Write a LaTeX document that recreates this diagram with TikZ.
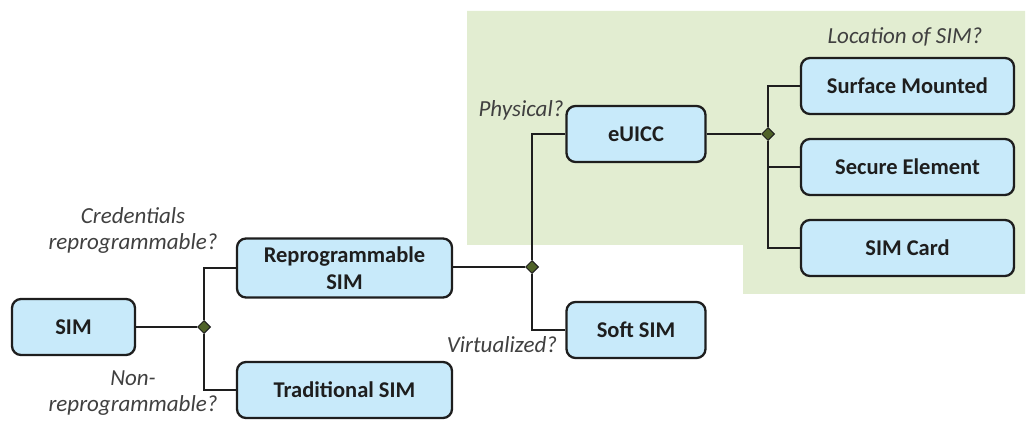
\documentclass[tikz,border=0pt]{standalone}
\usepackage{fontspec}
\setmainfont{Carlito}
\usetikzlibrary{shapes.geometric}
\definecolor{boxblue}{RGB}{200,234,250}
\definecolor{bggreen}{RGB}{226,237,209}
\definecolor{knot}{RGB}{79,98,40}
\definecolor{ink}{RGB}{30,30,30}
\definecolor{ask}{RGB}{64,64,64}
\tikzset{
  simbox/.style={draw=ink, line width=2.3pt, fill=boxblue, rounded corners=9pt, minimum height=56pt, inner sep=0pt, align=center, text=ink, font=\fontsize{22.5}{26.5}\selectfont\bfseries},
  knotpt/.style={diamond, draw=ink, fill=knot, line width=1pt, minimum size=13pt, inner sep=0pt},
  question/.style={align=center, text=ask, font=\fontsize{23}{26}\selectfont\itshape},
  wire/.style={draw=ink, line width=2pt}
}
\begin{document}
\begin{tikzpicture}[x=1pt, y=-1pt]
    \useasboundingbox (0,0) rectangle (1029,430);
    \fill[bggreen] (467,11) -- (1025,11) -- (1025,294) -- (743,294) -- (743,245) -- (467,245) -- cycle;
    \node[simbox, minimum width=123pt] (sim) at (73.5,327) {SIM};
    \node[simbox, minimum width=215pt, minimum height=59pt] (repro) at (344.5,268) {Reprogrammable\\SIM};
    \node[simbox, minimum width=215pt] (trad) at (344.5,390) {Traditional SIM};
    \node[simbox, minimum width=139pt] (soft) at (636,330) {Soft SIM};
    \node[simbox, minimum width=139pt] (euicc) at (636,134) {eUICC};
    \node[simbox, minimum width=213pt] (surf) at (907.5,86) {Surface Mounted};
    \node[simbox, minimum width=213pt] (secure) at (907.5,167) {Secure Element};
    \node[simbox, minimum width=213pt] (simcard) at (907.5,248) {SIM Card};
    \node[knotpt] (d1) at (204,327) {};
    \node[knotpt] (d2) at (532,267) {};
    \node[knotpt] (d3) at (768,134) {};
    \draw[wire] (sim) -- (d1);
    \draw[wire] (repro.west) -| (d1);
    \draw[wire] (d1) |- (trad.west);
    \draw[wire] (repro.east |- d2) -- (d2);
    \draw[wire] (euicc.west) -| (d2);
    \draw[wire] (d2) |- (soft.west);
    \draw[wire] (euicc) -- (d3);
    \draw[wire] (surf.west) -| (d3);
    \draw[wire] (d3) |- (simcard.west);
    \draw[wire] (d3 |- secure) -- (secure.west);
    \node[question] (qcred) at (133,230) {Credentials\\reprogrammable?};
    \node[question] (qnon) at (133,393) {Non-\\reprogrammable?};
    \node[question] (qphys) at (521,110) {Physical?};
    \node[question] (qvirt) at (502,345) {Virtualized?};
    \node[question] (qloc) at (905,37) {Location of SIM?};
\end{tikzpicture}
\end{document}
